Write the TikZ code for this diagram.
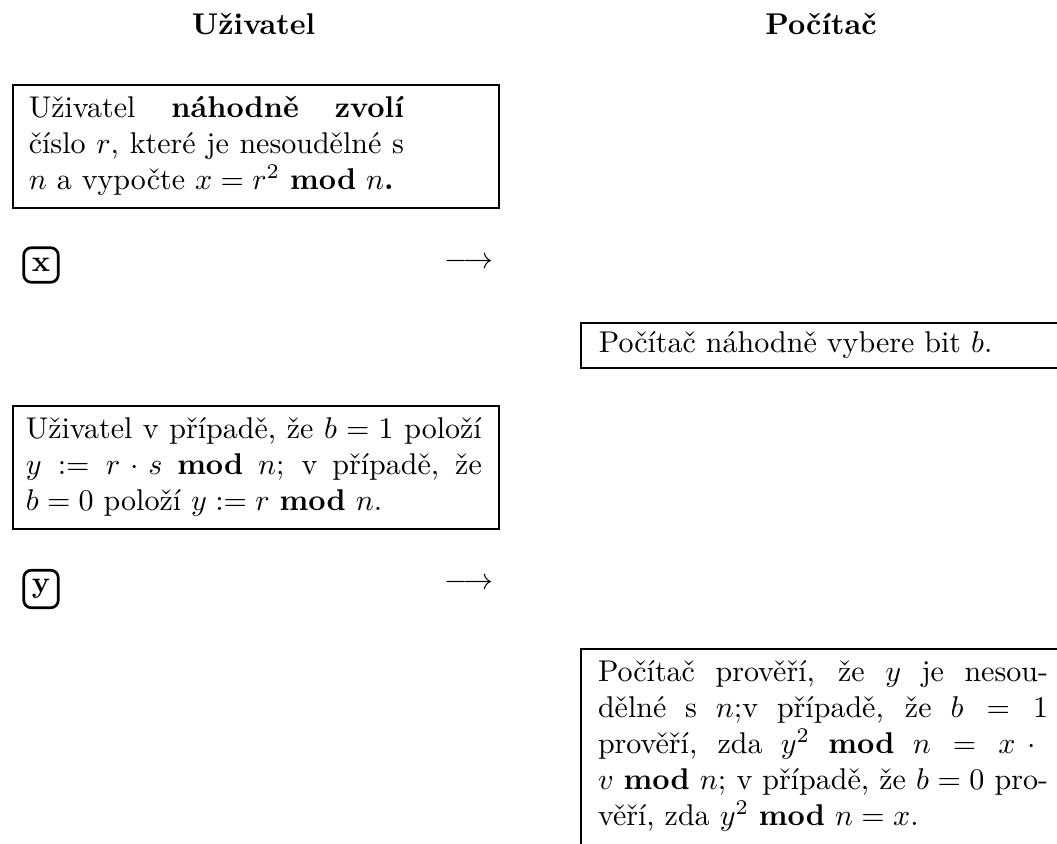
\documentclass[tikz,border=0pt]{standalone}
\usepackage{fontspec}
\newcommand{\jsp}{\spaceskip=3.33pt plus 1.67pt minus 1.11pt\relax}
\tikzset{
  bx/.style={draw, line width=0.6pt, anchor=north west, inner xsep=0pt, inner ysep=2.5pt, text width=162pt},
  key/.style={draw, rounded corners=2.5pt, line width=0.9pt, inner sep=0pt, minimum width=11.5pt},
  hdr/.style={anchor=base, font=\bfseries}
}
\begin{document}
\begin{tikzpicture}[x=0.3333pt,y=-0.3333pt]
\useasboundingbox (0,0) rectangle (1057,844);
\clip (0,0) rectangle (1057,844);
\node[hdr] (hu) at (253.5,35) {Uživatel};
\node[hdr] (hp) at (821,35) {Počítač};

\node[bx] (b1) at (12,84) {\hspace*{5.3pt}\parbox[t]{125pt}{\jsp\strut Uživatel \textbf{náhodně zvolí}\linebreak
číslo $r$, které je nesoudělné s\linebreak
$n$ a vypočte $x = r^2$ \textbf{mod} $n$\textbf{.}\strut}};

\node[key, minimum height=11.5pt] (kx) at (41,265) {\textbf{x}};
\node (a1) at (469,263) {$\longrightarrow$};

\node[bx, inner ysep=1.5pt] (b2) at (580,322) {\hspace*{6pt}\parbox[t]{150pt}{\jsp\strut Počítač náhodně vybere bit $b$.\strut}};

\node[bx] (b3) at (12,405) {\hspace*{4.3pt}\parbox[t]{152pt}{\jsp\strut Uživatel v případě, že $b = 1$ položí\linebreak
$y := r \cdot s$ \textbf{mod} $n$; v případě, že\linebreak
$b = 0$ položí $y := r$ \textbf{mod} $n$.\strut}};

\node[key, minimum height=12.5pt] (ky) at (41,589) {\textbf{y}};
\node (a2) at (469,584) {$\longrightarrow$};

\node[bx] (b4) at (580,648) {\hspace*{5.7pt}\parbox[t]{150pt}{\jsp\strut Počítač prověří, že $y$ je nesou-\linebreak
dělné s $n$;v případě, že $b = 1$\linebreak
prověří, zda $y^2$ \textbf{mod} $n = x \cdot{}$\linebreak
$v$ \textbf{mod} $n$; v případě, že $b = 0$ pro-\linebreak
věří, zda $y^2$ \textbf{mod} $n = x$.\strut\par\vspace*{8pt}}};
\end{tikzpicture}
\end{document}
